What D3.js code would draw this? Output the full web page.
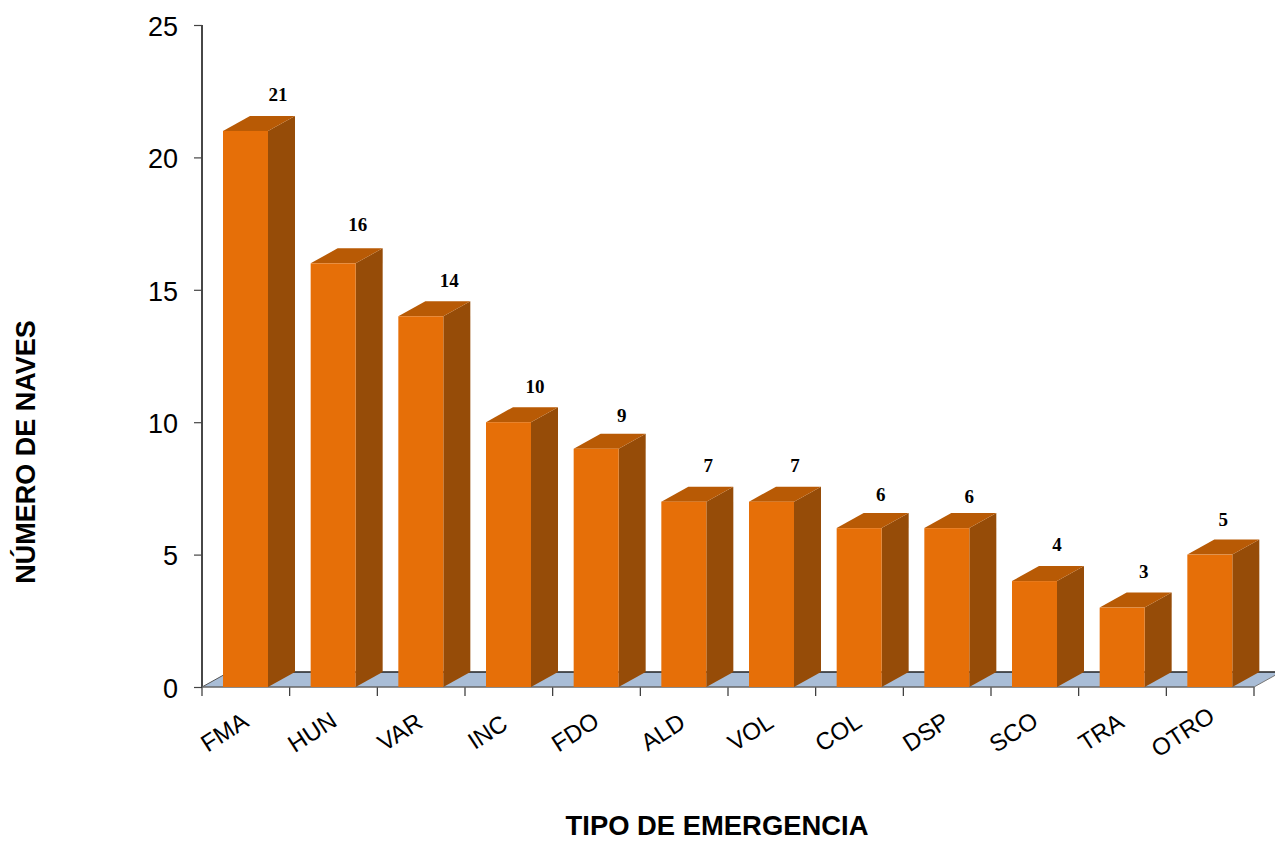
<!DOCTYPE html>
<html><head><meta charset="utf-8">
<script src="https://cdn.jsdelivr.net/npm/d3@7"></script>
<style>html,body{margin:0;padding:0;background:#fff}svg{display:block}</style></head>
<body><div id="c"></div>
<script>
const categories=["FMA","HUN","VAR","INC","FDO","ALD","VOL","COL","DSP","SCO","TRA","OTRO"];
const values=[21,16,14,10,9,7,7,6,6,4,3,5];
const yTicks=[0,5,10,15,20,25];
const W=1275,H=841,dx=27,dy=15;
const svg=d3.select("#c").append("svg").attr("width",W).attr("height",H);
const x=d3.scaleBand().domain(categories).range([202,1254]);
const y=d3.scaleLinear().domain([0,25]).range([687,25]);
const barW=45,off=21;
const y0=y(0),xL=x.range()[0],xR=x.range()[1];
const labelDx=[55,47,51,49,48,47,46,44,45,45,44,36];
const labelDy=[-1,-3,0,0,2,-1,-1,2,4,-1,-1,0];
svg.append("polygon").attr("points",[[xL,y0],[xR,y0],[xR+dx,y0-dy],[xL+dx,y0-dy]].map(p=>p.join(",")).join(" ")).attr("fill","#a9bdd6");
svg.append("line").attr("x1",xL+dx).attr("x2",W).attr("y1",y0-dy).attr("y2",y0-dy).attr("stroke","#222").attr("stroke-width",1.5);
svg.append("line").attr("x1",xL).attr("x2",xL+dx).attr("y1",y0).attr("y2",y0-dy).attr("stroke","#555").attr("stroke-width",1);
svg.append("line").attr("x1",xR).attr("x2",xR+dx).attr("y1",y0).attr("y2",y0-dy).attr("stroke","#777").attr("stroke-width",1);
const ay=svg.append("g").attr("transform",`translate(${xL},0)`).call(d3.axisLeft(y).tickValues(yTicks).tickSize(8).tickPadding(16));
ay.selectAll("text").attr("font-family","'Liberation Sans',Arial,sans-serif").attr("font-size",27).attr("dy","0.38em").attr("fill","#000");
ay.selectAll("line").attr("stroke","#444").attr("stroke-width",1.2);
ay.select("path").attr("stroke","#333").attr("stroke-width",1.8).attr("d",`M0,${y(25)}V${y0}`);
const ax=svg.append("g").attr("transform",`translate(0,${y0})`);
const tickPos=categories.map(c=>x(c)).concat([xR]);
ax.selectAll("line.t").data(tickPos).join("line").attr("class","t").attr("x1",d=>d).attr("x2",d=>d).attr("y1",0).attr("y2",9).attr("stroke","#333").attr("stroke-width",1.2);
ax.append("line").attr("x1",xL).attr("x2",xR).attr("y1",0).attr("y2",0).attr("stroke","#666").attr("stroke-width",1.6);
const bars=svg.append("g").selectAll("g").data(categories.map((c,i)=>({c,v:values[i],i}))).join("g");
const l=d=>x(d.c)+off, r=d=>l(d)+barW, t=d=>y(d.v);
bars.append("polygon").attr("fill","#964c08").attr("points",d=>`${r(d)},${t(d)} ${r(d)+dx},${t(d)-dy} ${r(d)+dx},${y0-dy} ${r(d)},${y0}`);
bars.append("polygon").attr("fill","#b85a05").attr("points",d=>`${l(d)},${t(d)} ${l(d)+dx},${t(d)-dy} ${r(d)+dx},${t(d)-dy} ${r(d)},${t(d)}`);
bars.append("rect").attr("fill","#e66f08").attr("x",l).attr("y",t).attr("width",barW).attr("height",d=>y0-t(d));
bars.append("text").attr("x",d=>l(d)+labelDx[d.i]).attr("y",d=>t(d)-29+labelDy[d.i]).attr("text-anchor","middle")
 .attr("font-family","'Liberation Serif',serif").attr("font-weight","bold").attr("font-size",19).attr("fill","#000").text(d=>d.v);
svg.append("g").selectAll("text").data(categories).join("text")
 .attr("transform",c=>`translate(${x(c)+(c==="OTRO"?21:27)},${y0+52}) rotate(-33)`).attr("text-anchor","middle")
 .attr("font-family","'Liberation Sans',Arial,sans-serif").attr("font-size",24).attr("fill","#000").text(c=>c);
svg.append("text").attr("x",717).attr("y",835).attr("text-anchor","middle").attr("font-family","'Liberation Sans',Arial,sans-serif").attr("font-weight","bold").attr("font-size",27.4).text("TIPO DE EMERGENCIA");
svg.append("text").attr("transform","translate(35,452) rotate(-90)").attr("text-anchor","middle").attr("font-family","'Liberation Sans',Arial,sans-serif").attr("font-weight","bold").attr("font-size",27).text("NÚMERO DE NAVES");
</script></body></html>
